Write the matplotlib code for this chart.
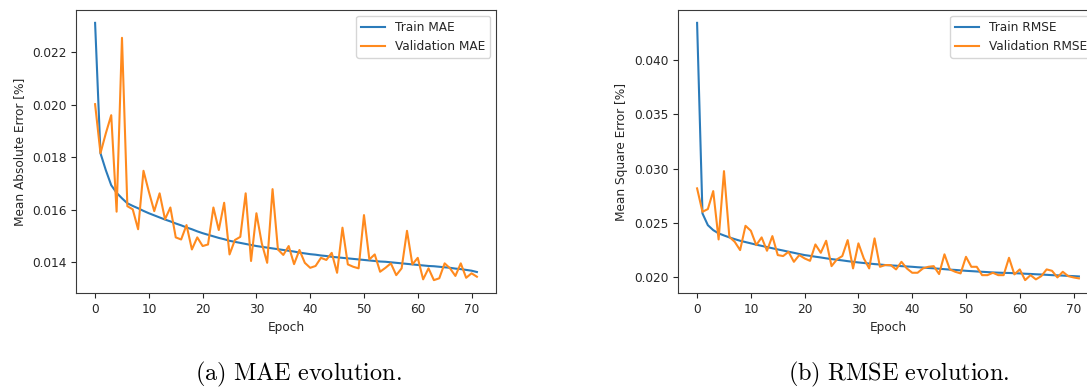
import matplotlib
matplotlib.use("Agg")
import matplotlib.pyplot as plt

epochs = list(range(72))

train_mae = [0.02312, 0.01815, 0.01750, 0.01693, 0.01664, 0.01643, 0.01624, 0.01614, 0.01605, 0.01595,
             0.01586, 0.01578, 0.01570, 0.01562, 0.01555, 0.01547, 0.01540, 0.01532, 0.01525, 0.01517,
             0.01510, 0.01504, 0.01498, 0.01492, 0.01487, 0.01481, 0.01477, 0.01473, 0.01469, 0.01465,
             0.01461, 0.01458, 0.01455, 0.01452, 0.01449, 0.01446, 0.01443, 0.01440, 0.01436, 0.01433,
             0.01430, 0.01428, 0.01425, 0.01423, 0.01420, 0.01418, 0.01416, 0.01414, 0.01412, 0.01410,
             0.01408, 0.01406, 0.01404, 0.01402, 0.01401, 0.01399, 0.01397, 0.01395, 0.01393, 0.01391,
             0.01389, 0.01387, 0.01385, 0.01384, 0.01382, 0.01380, 0.01378, 0.01375, 0.01373, 0.01370,
             0.01367, 0.01362]

val_mae = [0.02002, 0.01815, 0.01891, 0.01960, 0.01592, 0.02255, 0.01613, 0.01601, 0.01525, 0.01748,
           0.01668, 0.01594, 0.01662, 0.01563, 0.01608, 0.01494, 0.01486, 0.01541, 0.01448, 0.01494,
           0.01461, 0.01467, 0.01608, 0.01522, 0.01626, 0.01429, 0.01484, 0.01496, 0.01662, 0.01404,
           0.01586, 0.01471, 0.01397, 0.01678, 0.01448, 0.01427, 0.01461, 0.01392, 0.01446, 0.01397,
           0.01378, 0.01385, 0.01416, 0.01408, 0.01435, 0.01359, 0.01531, 0.01391, 0.01382, 0.01376,
           0.01579, 0.01410, 0.01429, 0.01363, 0.01378, 0.01395, 0.01350, 0.01376, 0.01519, 0.01391,
           0.01416, 0.01334, 0.01376, 0.01331, 0.01338, 0.01395, 0.01376, 0.01347, 0.01395, 0.01340,
           0.01357, 0.01344]

train_rmse = [0.04344, 0.02587, 0.02479, 0.02433, 0.02403, 0.02384, 0.02366, 0.02350, 0.02335, 0.02323,
              0.02311, 0.02299, 0.02288, 0.02277, 0.02266, 0.02255, 0.02245, 0.02234, 0.02224, 0.02213,
              0.02203, 0.02196, 0.02188, 0.02181, 0.02173, 0.02166, 0.02160, 0.02154, 0.02147, 0.02141,
              0.02135, 0.02130, 0.02125, 0.02120, 0.02116, 0.02111, 0.02108, 0.02105, 0.02101, 0.02098,
              0.02095, 0.02091, 0.02088, 0.02084, 0.02081, 0.02077, 0.02073, 0.02069, 0.02066, 0.02062,
              0.02058, 0.02055, 0.02052, 0.02049, 0.02046, 0.02043, 0.02041, 0.02039, 0.02038, 0.02036,
              0.02034, 0.02031, 0.02029, 0.02026, 0.02024, 0.02021, 0.02018, 0.02016, 0.02014, 0.02011,
              0.02009, 0.02006]

val_rmse = [0.02818, 0.02602, 0.02627, 0.02793, 0.02347, 0.02977, 0.02371, 0.02325, 0.02249, 0.02473,
            0.02427, 0.02295, 0.02366, 0.02243, 0.02378, 0.02203, 0.02194, 0.02233, 0.02141, 0.02203,
            0.02172, 0.02150, 0.02301, 0.02224, 0.02335, 0.02101, 0.02163, 0.02194, 0.02341, 0.02080,
            0.02311, 0.02172, 0.02080, 0.02357, 0.02095, 0.02111, 0.02111, 0.02071, 0.02141, 0.02080,
            0.02040, 0.02040, 0.02080, 0.02095, 0.02101, 0.02028, 0.02210, 0.02071, 0.02049, 0.02034,
            0.02187, 0.02095, 0.02095, 0.02018, 0.02018, 0.02040, 0.02018, 0.02018, 0.02178, 0.02025,
            0.02071, 0.01972, 0.02018, 0.01979, 0.02009, 0.02071, 0.02058, 0.01997, 0.02049, 0.02009,
            0.01997, 0.01988]

ylabels = ["Mean Absolute Error [%]", "Mean Square Error [%]"]
legend_labels = [("Train MAE", "Validation MAE"), ("Train RMSE", "Validation RMSE")]
captions = [r"$\mathrm{(a)\ MAE\ evolution.}$", r"$\mathrm{(b)\ RMSE\ evolution.}$"]

plt.rcParams["mathtext.fontset"] = "cm"
plt.rcParams["font.family"] = ["DejaVu Sans"]
fs = 8.7
text_color = "#262626"
spine_color = "#3a3a3a"

W, H = 1087, 387
fig = plt.figure(figsize=(W / 100, H / 100), dpi=100)

ax_lefts = [76, 678]
series = [(train_mae, val_mae), (train_rmse, val_rmse)]
caption_x = [298.7, 899]

for i in range(2):
    ax = fig.add_axes([ax_lefts[i] / W, 94 / H, 420 / W, 283 / H])
    tr, va = series[i]
    ax.plot(epochs, tr, color="#2b7bba", lw=1.5, label=legend_labels[i][0])
    ax.plot(epochs, va, color="#ff8a1e", lw=1.5, label=legend_labels[i][1])
    ax.set_xlabel("Epoch", fontsize=fs, color=text_color)
    ax.set_ylabel(ylabels[i], fontsize=fs, color=text_color)
    ax.tick_params(labelsize=fs, colors=text_color)
    for sp in ax.spines.values():
        sp.set_color(spine_color)
    ax.set_xticks([0, 10, 20, 30, 40, 50, 60, 70])
    leg = ax.legend(loc="upper right", fontsize=fs)
    for t in leg.get_texts():
        t.set_color(text_color)
    fig.text(caption_x[i] / W, (H - 380) / H, captions[i], fontsize=17.5,
             ha="center", va="baseline", color="black")

fig.savefig("out.png", dpi=100)
